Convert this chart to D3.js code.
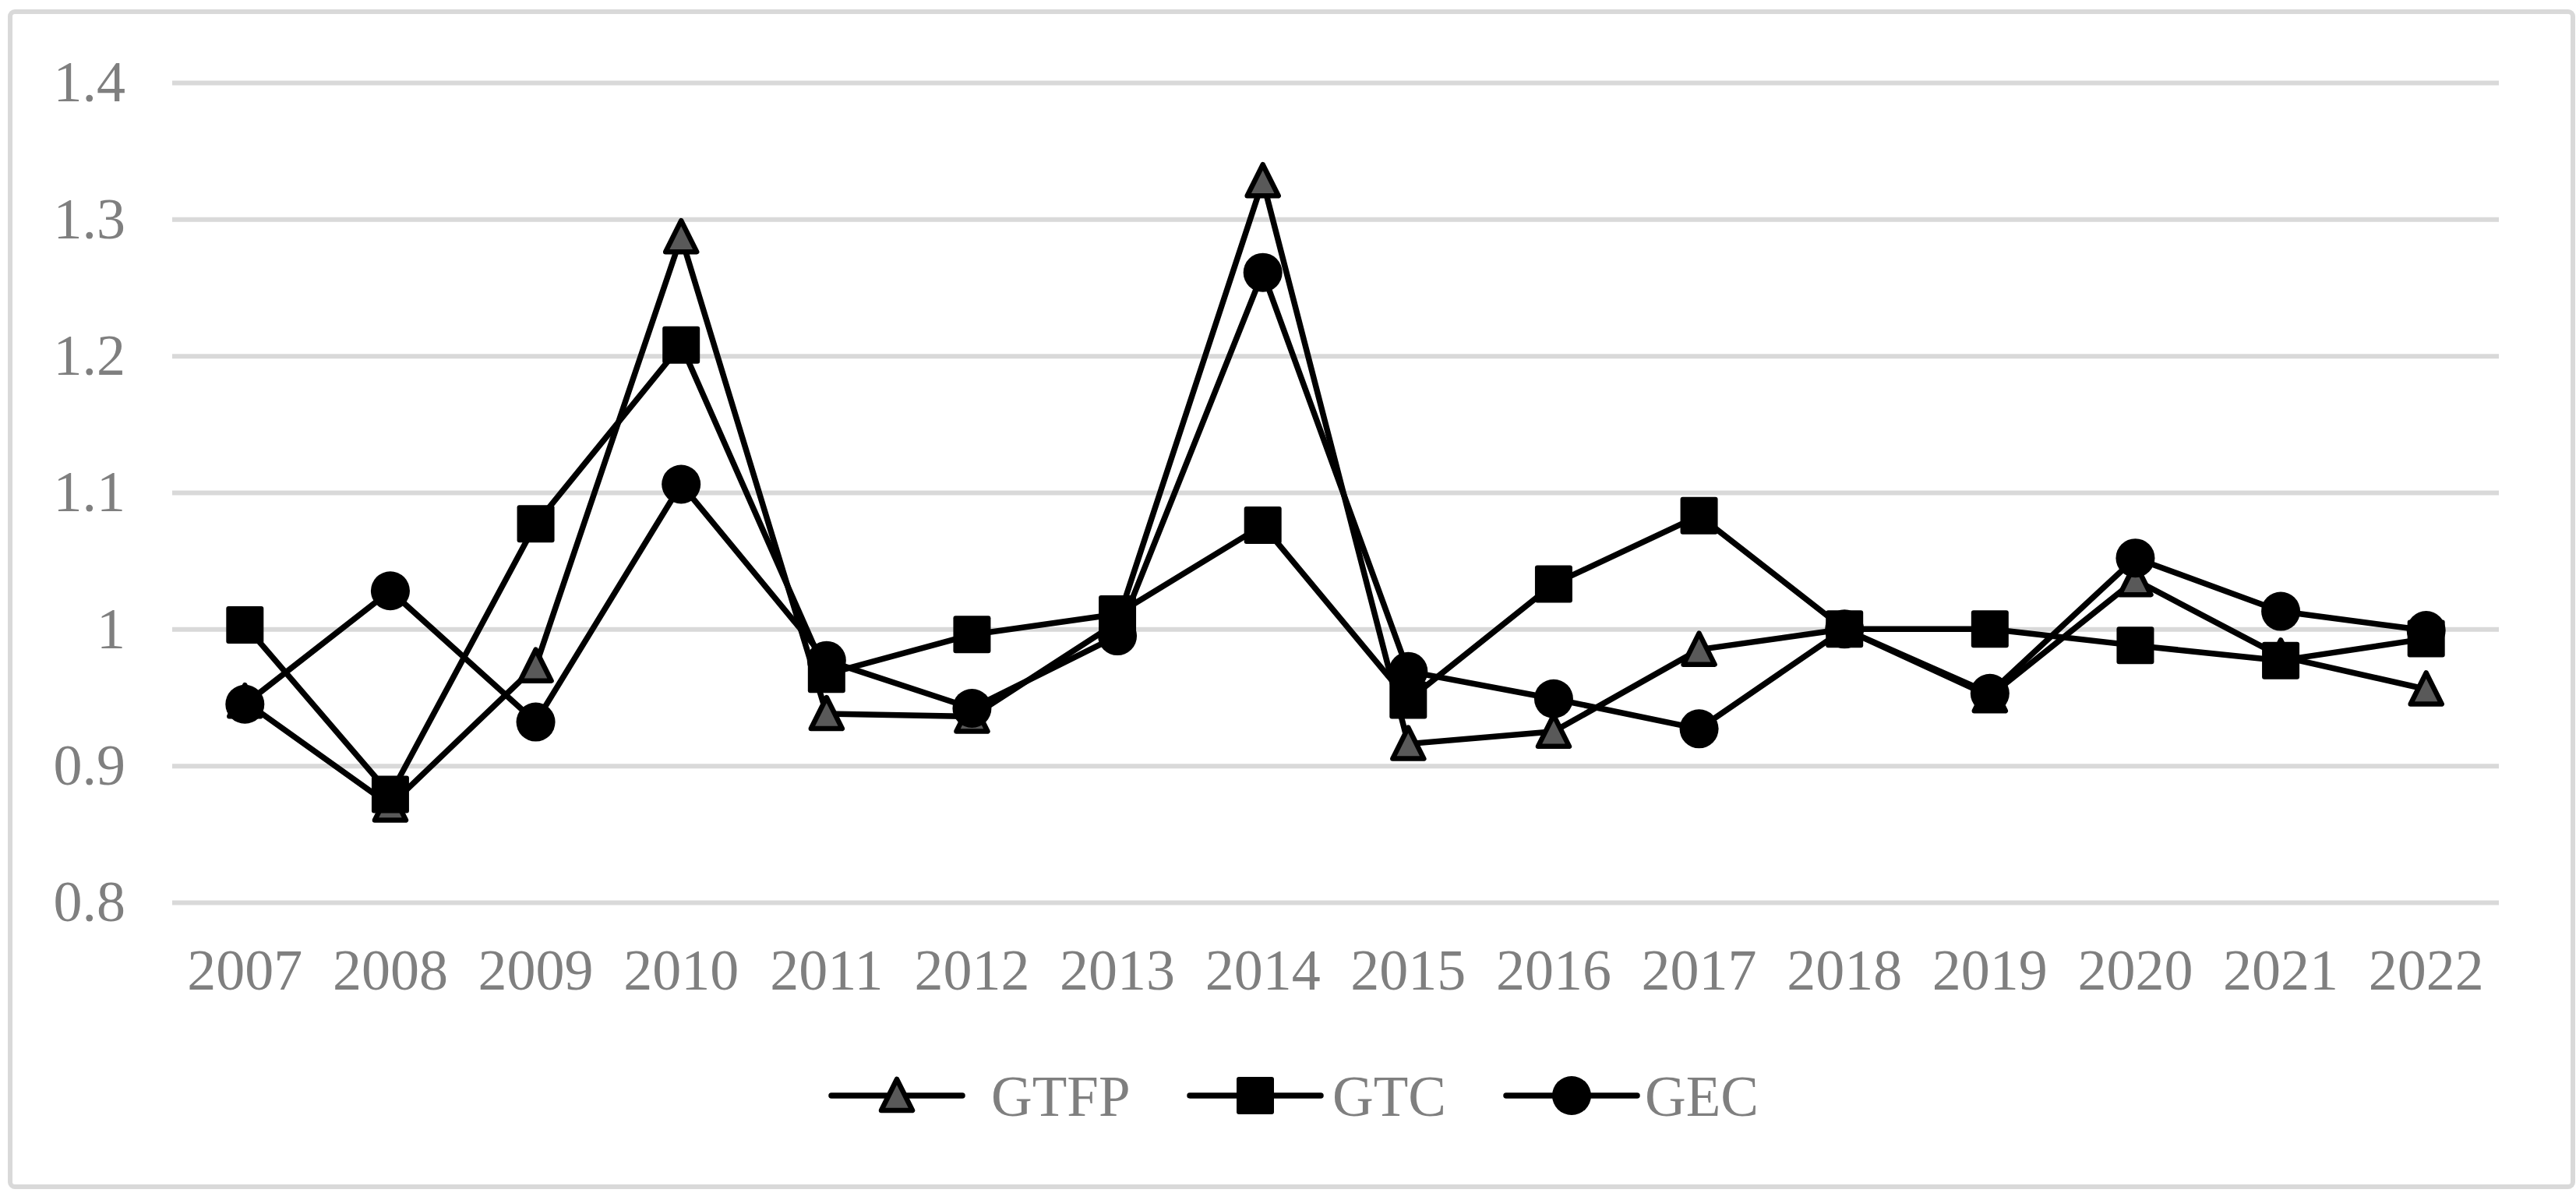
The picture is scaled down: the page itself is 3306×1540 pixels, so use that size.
<!DOCTYPE html>
<html>
<head>
<meta charset="utf-8">
<script src="https://cdn.jsdelivr.net/npm/d3@7"></script>
<style>
html,body{margin:0;padding:0;background:#fff;}
svg{display:block;}
</style>
</head>
<body>
<svg id="chart" width="3306" height="1540"></svg>
<script>
const years = ["2007","2008","2009","2010","2011","2012","2013","2014","2015","2016","2017","2018","2019","2020","2021","2022"];
const gtfp = [0.947,0.871,0.973,1.287,0.938,0.936,1.005,1.328,0.916,0.925,0.985,1.000,0.951,1.036,0.980,0.956];
const gtc  = [1.003,0.879,1.077,1.208,0.967,0.996,1.011,1.076,0.948,1.033,1.083,1.000,1.000,0.988,0.977,0.993];
const gec  = [0.945,1.028,0.932,1.106,0.977,0.942,0.995,1.261,0.969,0.949,0.927,1.000,0.953,1.052,1.013,0.999];
const seriesNames = ["GTFP","GTC","GEC"];
const yTicks = [0.8,0.9,1.0,1.1,1.2,1.3,1.4];
const yTickLabels = ["0.8","0.9","1","1.1","1.2","1.3","1.4"];

const svg = d3.select("#chart");
const font = "'Liberation Serif','Times New Roman',serif";
const textColor = "#7f7f7f";
const gridColor = "#d9d9d9";

// outer border
svg.append("rect").attr("x",13).attr("y",15).attr("width",3289).attr("height",1508)
  .attr("rx",6).attr("fill","#fff").attr("stroke",gridColor).attr("stroke-width",6);

const x = d3.scaleBand().domain(years).range([221,3207]).padding(0);
const y = d3.scaleLinear().domain([0.8,1.4]).range([1158,106]);
const cx = d => x(d) + x.bandwidth()/2;

// gridlines + y labels
const yAxis = d3.axisLeft(y).tickValues(yTicks)
  .tickFormat((d,i)=>yTickLabels[i]).tickSize(-(3207-221)).tickPadding(60);
const gy = svg.append("g").attr("transform","translate(221,0)").call(yAxis);
gy.select(".domain").remove();
gy.selectAll(".tick line").attr("stroke",gridColor).attr("stroke-width",6);
gy.selectAll(".tick text").attr("fill",textColor).style("font-family",font).style("font-size","74px");

// x labels
const xAxis = d3.axisBottom(x).tickSize(0).tickPadding(0);
const gx = svg.append("g").attr("transform","translate(0,1244)").call(xAxis);
gx.select(".domain").remove();
gx.selectAll(".tick text").attr("fill",textColor).style("font-family",font).style("font-size","74px")
  .attr("dy","0.35em").attr("y",0);

const data = [gtfp, gtc, gec];
const markerTypes = ["triangle","square","circle"];

function drawMarker(g, type, px, py){
  if(type==="triangle"){
    const w=40, h=40;
    g.append("path").attr("d",`M${px},${py-h/2-1} L${px+w/2},${py+h/2-1} L${px-w/2},${py+h/2-1} Z`)
      .attr("fill","#595959").attr("stroke","#000").attr("stroke-width",6.5).attr("stroke-linejoin","round");
  } else if(type==="square"){
    g.append("rect").attr("x",px-24).attr("y",py-24).attr("width",48).attr("height",48).attr("rx",3)
      .attr("fill","#000");
  } else {
    g.append("circle").attr("cx",px).attr("cy",py).attr("r",25).attr("fill","#000");
  }
}

const line = d3.line().x((d,i)=>cx(years[i])).y(d=>y(d));
data.forEach((vals,si)=>{
  const g = svg.append("g");
  g.append("path").datum(vals).attr("d",line).attr("fill","none")
    .attr("stroke","#000").attr("stroke-width",7.5).attr("stroke-linejoin","round").attr("stroke-linecap","round");
  vals.forEach((v,i)=>drawMarker(g, markerTypes[si], cx(years[i]), y(v)));
});

// legend
const legendItems = [
  {lx:1067, tx:1272},
  {lx:1527, tx:1710},
  {lx:1933, tx:2111}
];
const ly = 1406;
const lg = svg.append("g");
seriesNames.forEach((name,i)=>{
  const it = legendItems[i];
  lg.append("line").attr("x1",it.lx).attr("x2",it.lx+168).attr("y1",ly).attr("y2",ly)
    .attr("stroke","#000").attr("stroke-width",7.5).attr("stroke-linecap","round");
  drawMarker(lg, markerTypes[i], it.lx+84, ly);
  lg.append("text").attr("x",it.tx).attr("y",ly).attr("dy","0.35em").text(name)
    .attr("fill",textColor).style("font-family",font).style("font-size","73px");
});
</script>
</body>
</html>
